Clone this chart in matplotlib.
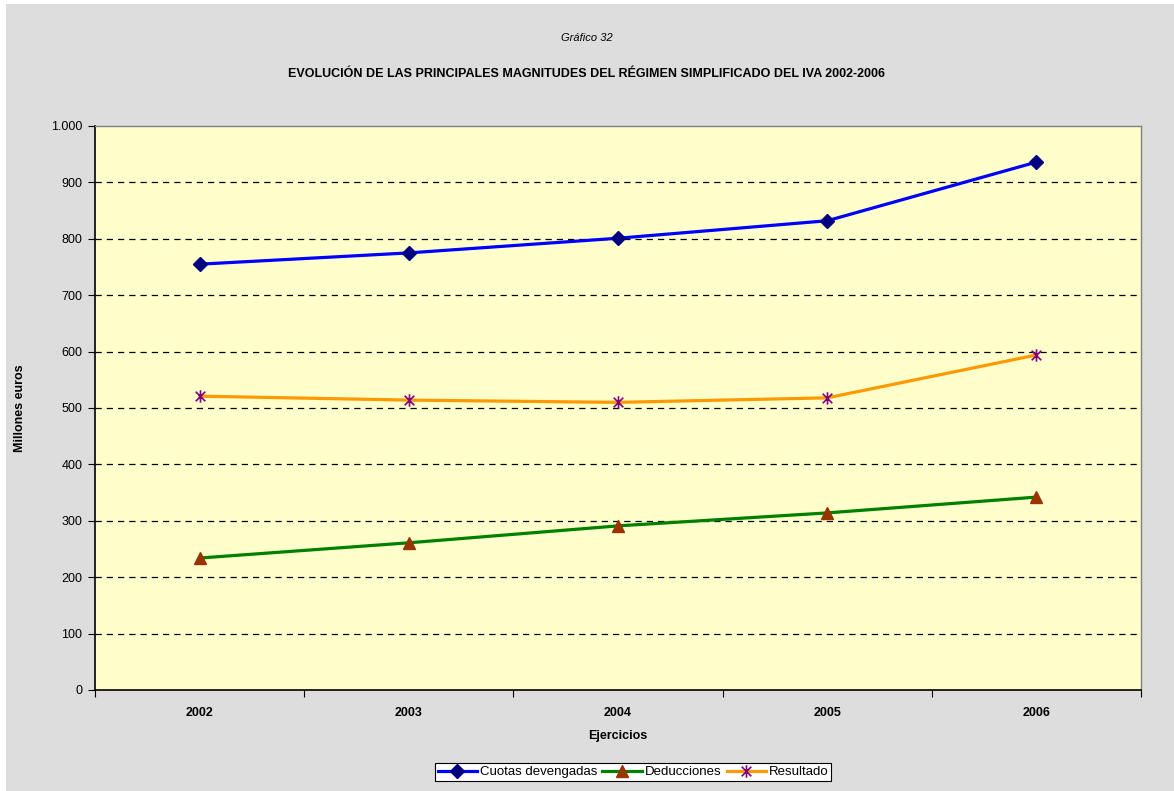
import matplotlib
matplotlib.use("Agg")
import matplotlib.pyplot as plt
from matplotlib.path import Path
from matplotlib.patches import Rectangle
from matplotlib.ticker import FuncFormatter, FixedLocator

years = ["2002", "2003", "2004", "2005", "2006"]
cuotas = [755, 775, 801, 832, 936]
deducciones = [234, 261, 291, 314, 342]
resultado = [521, 514, 510, 518, 594]

plt.rcParams['font.family'] = ['Liberation Sans', 'DejaVu Sans']

W, H = 1174, 791
fig = plt.figure(figsize=(W / 100, H / 100), dpi=100)
fig.patch.set_facecolor('white')
fig.patches.append(Rectangle((6 / W, 0), 1 - 6 / W, 1 - 4 / H, transform=fig.transFigure,
                             facecolor='#DDDDDD', edgecolor='none', zorder=-10))

ax = fig.add_axes([95 / W, 1 - 690 / H, (1141 - 95) / W, (690 - 126) / H])
ax.set_facecolor('#FFFFCC')

x = list(range(len(years)))

star = Path([(-1, -1), (1, 1), (-1, 1), (1, -1), (0, -1.3), (0, 1.3)],
            [Path.MOVETO, Path.LINETO, Path.MOVETO, Path.LINETO, Path.MOVETO, Path.LINETO])

ax.plot(x, cuotas, color='#0000FF', lw=2.3, marker='D', ms=7,
        mfc='#000080', mec='#000080', label='Cuotas devengadas', zorder=3)
ax.plot(x, deducciones, color='#008000', lw=2.3, marker='^', ms=9,
        mfc='#993300', mec='#993300', label='Deducciones', zorder=3)
ax.plot(x, resultado, color='#FF9900', lw=2.3, marker=star, ms=9, mew=1.2,
        mfc='#800080', mec='#800080', label='Resultado', zorder=3)

ax.set_xlim(-0.5, 4.5)
ax.set_ylim(0, 1000)
ax.set_yticks(range(0, 1001, 100))
ax.yaxis.set_major_formatter(FuncFormatter(lambda v, p: f"{int(v):,}".replace(",", ".")))
for yv in range(100, 1000, 100):
    ax.axhline(yv, color='black', lw=0.9, ls=(0, (5, 4)), zorder=1)

ax.set_xticks([i - 0.5 for i in range(len(years) + 1)])
ax.set_xticklabels([])
ax.xaxis.set_minor_locator(FixedLocator(x))
ax.set_xticklabels(years, minor=True, fontweight='bold', fontsize=9)
ax.tick_params(axis='x', which='minor', length=0, pad=12)
ax.tick_params(axis='x', which='major', length=5, direction='out', color='black')
ax.tick_params(axis='y', length=5, direction='out', labelsize=9, pad=4)

for s in ['left', 'bottom']:
    ax.spines[s].set_color('black')
    ax.spines[s].set_linewidth(1.2)
for s in ['top', 'right']:
    ax.spines[s].set_color('#808080')
    ax.spines[s].set_linewidth(1.0)

ax.set_ylabel('Millones euros', fontweight='bold', fontsize=9, labelpad=18)
ax.set_xlabel('Ejercicios', fontweight='bold', fontsize=9, labelpad=8)

fig.text(0.5, 1 - 38 / H, 'Gráfico 32', ha='center', va='center', style='italic', fontsize=8)
fig.text(0.5, 1 - 74 / H,
         'EVOLUCIÓN DE LAS PRINCIPALES MAGNITUDES DEL RÉGIMEN SIMPLIFICADO DEL IVA 2002-2006',
         ha='center', va='center', fontweight='bold', fontsize=9)

leg = fig.legend(loc='center', bbox_to_anchor=(633 / W, 1 - 772 / H), ncol=3,
                 frameon=True, fancybox=False, edgecolor='black', facecolor='white',
                 fontsize=9.5, handlelength=3, handletextpad=0.2, columnspacing=0.4,
                 borderpad=0.2, borderaxespad=0, framealpha=1)
leg.get_frame().set_linewidth(0.8)

fig.savefig('out.png', dpi=100, facecolor=fig.get_facecolor())
